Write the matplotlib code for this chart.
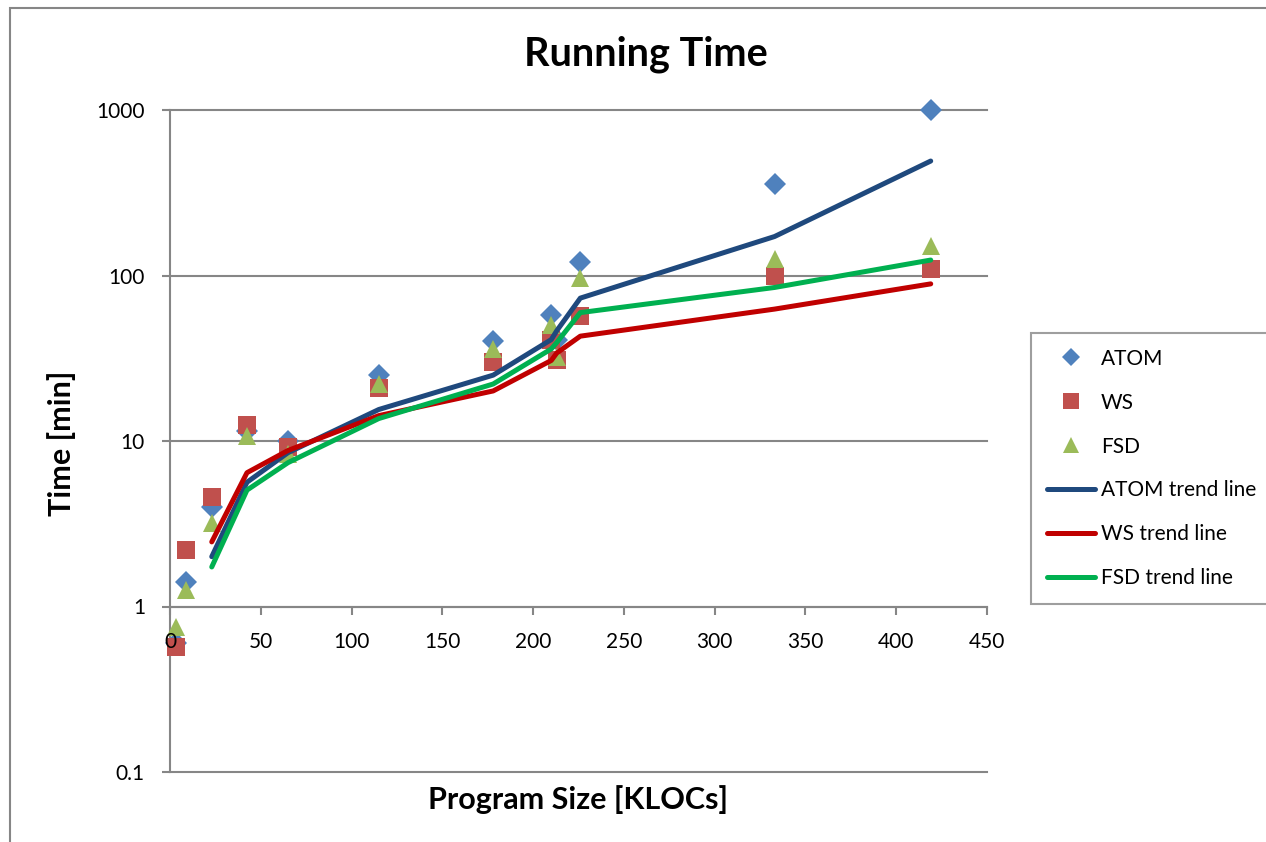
import numpy as np
import matplotlib
matplotlib.use("Agg")
import matplotlib.pyplot as plt
from matplotlib.lines import Line2D
from matplotlib.patches import Rectangle

plt.rcParams['font.family'] = ['Lato', 'DejaVu Sans']

# Data (program size in KLOCs, running time in minutes)
kloc = [3.3, 8.8, 23, 42.4, 65, 115, 178, 210, 213, 226, 333, 419]
atom = [0.6, 1.4, 4.0, 11.5, 10.0, 25, 40, 58, 41, 120, 355, 1000]
ws   = [0.57, 2.2, 4.6, 12.5, 9.2, 21, 30, 41, 31, 57, 100, 110]
fsd  = [0.75, 1.25, 3.2, 10.7, 8.3, 22, 36, 50, 32, 97, 125, 150]
series_names = ["ATOM", "WS", "FSD"]
trend_period = 3  # Excel moving-average trend line

marker_colors = {"ATOM": "#4F81BD", "WS": "#C0504D", "FSD": "#9BBB59"}
trend_colors = {"ATOM": "#1F497D", "WS": "#C00000", "FSD": "#00B050"}
markers = {"ATOM": ("D", 11), "WS": ("s", 13.5), "FSD": ("^", 13.5)}
values = {"ATOM": atom, "WS": ws, "FSD": fsd}

W, H = 1266, 842
fig = plt.figure(figsize=(W / 100, H / 100), dpi=100)
ax = fig.add_axes([170 / W, 1 - 772 / H, (987 - 170) / W, (772 - 110) / H])

x = np.array(kloc)
for name in series_names:
    m, ms = markers[name]
    ax.plot(x, values[name], linestyle="none", marker=m, markersize=ms,
            color=marker_colors[name], markeredgewidth=0, zorder=3, clip_on=False)
for name in series_names:
    v = np.array(values[name])
    ma = np.convolve(v, np.ones(trend_period) / trend_period, mode="valid")
    ax.plot(x[trend_period - 1:], ma, color=trend_colors[name], lw=3.6,
            solid_capstyle="round", solid_joinstyle="round", zorder=4)

ax.set_yscale("log")
ax.set_ylim(0.1, 1000)
ax.set_xlim(0, 450)
ax.set_xticks(range(0, 451, 50))
ax.set_yticks([0.1, 1, 10, 100, 1000])
ax.set_yticklabels(["0.1", "1", "10", "100", "1000"])
ax.yaxis.set_minor_locator(matplotlib.ticker.NullLocator())
ax.grid(False)
for yv in [0.1, 1, 10, 100, 1000]:
    ax.axhline(yv, color="#868686", lw=1.5, zorder=1, clip_on=False)
ax.xaxis.set_zorder(6)
ax.yaxis.set_zorder(6)

for s in ["top", "right"]:
    ax.spines[s].set_visible(False)
ax.spines["left"].set_color("#868686")
ax.spines["left"].set_linewidth(1.5)
ax.spines["left"].set_zorder(1)
ax.spines["bottom"].set_position(("data", 1))
ax.spines["bottom"].set_color("#868686")
ax.spines["bottom"].set_linewidth(1.5)
ax.spines["bottom"].set_zorder(1)
ax.tick_params(axis="both", direction="out", length=6, width=1.5, color="#868686",
               labelsize=15, labelcolor="black")
ax.tick_params(axis="x", pad=12)
ax.tick_params(axis="y", pad=12)

fig.text(646 / W, 1 - 54 / H, "Running Time", ha="center", va="center",
         fontsize=28.5, fontweight="bold")
fig.text(62 / W, 1 - 443 / H, "Time [min]", ha="center", va="center",
         rotation=90, fontsize=22, fontweight="bold")
fig.text(578 / W, 1 - 800 / H, "Program Size [KLOCs]", ha="center", va="center",
         fontsize=22, fontweight="bold")

# Outer chart border
fig.patches.append(Rectangle((10 / W, -0.1), 1.2, 1 - 8 / H + 0.1,
                             transform=fig.transFigure, fill=False,
                             edgecolor="#868686", lw=1.5))

handles = []
for name in series_names:
    m, ms = markers[name]
    handles.append(Line2D([], [], linestyle="none", marker=m, markersize=ms * 0.85,
                          color=marker_colors[name], markeredgewidth=0, label=name))
for name in series_names:
    handles.append(Line2D([], [], color=trend_colors[name], lw=3.6,
                          solid_capstyle="round", label=name + " trend line"))

leg = fig.legend(handles=handles, loc="upper left",
                 bbox_to_anchor=(1031 / W, 1 - 333 / H), fontsize=15,
                 frameon=True, fancybox=False, edgecolor="#868686",
                 borderaxespad=0, borderpad=0.75, labelspacing=1.15,
                 handlelength=2.3, handletextpad=0.3)
leg.get_frame().set_linewidth(1.5)

fig.savefig("out.png", dpi=100)
